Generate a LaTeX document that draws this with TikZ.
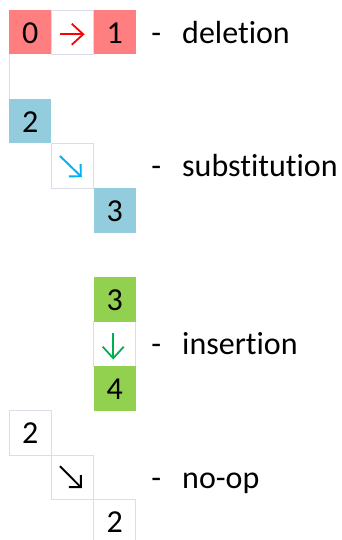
\documentclass[tikz,border=0pt]{standalone}
\usepackage{fontspec}
\setmainfont{Carlito}[Ligatures=NoCommon]
\usetikzlibrary{arrows.meta,calc}

\definecolor{delfill}{RGB}{255,126,128}
\definecolor{subfill}{RGB}{147,205,221}
\definecolor{insfill}{RGB}{146,208,80}
\definecolor{gridline}{RGB}{219,221,236}
\definecolor{delarrow}{RGB}{255,0,0}
\definecolor{subarrow}{RGB}{0,176,240}
\definecolor{insarrow}{RGB}{0,176,80}

\begin{document}
\begin{tikzpicture}[x=1pt,y=-1pt,
  every node/.style={font=\fontsize{32}{38}\selectfont},
  cell/.style={rectangle, inner sep=0pt, minimum width=42.25pt, minimum height=44.5pt,
    text height=22pt, text depth=0pt},
  gridcell/.style={cell, draw=gridline, line width=0.8pt},
  delcell/.style={cell, fill=delfill},
  subcell/.style={cell, fill=subfill},
  inscell/.style={cell, fill=insfill},
  opword/.style={inner sep=0pt, text height=22pt, text depth=0pt, anchor=west},
  opdash/.style={inner sep=0pt, text height=22pt, text depth=0pt},
  straightarr/.style={line width=1.8pt, -{Straight Barb[length=11.5pt,width=21pt,line width=1.8pt]}},
  diagarr/.style={line width=1.9pt, -{Straight Barb[length=8.5pt,width=17pt,line width=1.9pt]}}
]
\useasboundingbox (0,0) rectangle (341,540);

% deletion: 0 -> 1
\node[gridcell] (delarr) at (72.375,32.25) {};
\node[delcell] (del0) at (30.125,32.25) {0};
\node[delcell] (del1) at (114.625,32.25) {1};
\draw[straightarr, delarrow] ($(delarr.center)+(-12.4,2)$) -- ($(delarr.center)+(12.2,2)$);
\node[opdash] (deldash) at (156.3,32.25) {-};
\node[opword] (delword) at (182,32.25) {deletion};

% left rule of the empty cell below 0
\coordinate (gapTop) at (9,54.5);
\coordinate (gapBot) at (9,99);
\draw[gridline, line width=0.8pt] (gapTop) -- (gapBot);

% substitution: 2 -> 3 (diagonal)
\node[gridcell] (subarr) at (72.375,165.75) {};
\node[subcell] (sub2) at (30.125,121.25) {2};
\node[subcell] (sub3) at (114.625,210.25) {3};
\draw[diagarr, subarrow] ($(subarr.center)+(-12.4,-9.75)$) -- ($(subarr.center)+(9.4,11.4)$);
\node[opdash] (subdash) at (156.3,165.75) {-};
\node[opword] (subword) at (182,165.75) {substitution};

% insertion: 3 above 4
\node[gridcell] (insarr) at (114.625,343.75) {};
\node[inscell] (ins3) at (114.625,299.25) {3};
\node[inscell] (ins4) at (114.625,388.25) {4};
\draw[straightarr, insarrow] ($(insarr.center)+(-1.4,-10.5)$) -- ($(insarr.center)+(-1.4,15.8)$);
\node[opdash] (insdash) at (156.3,343.75) {-};
\node[opword] (insword) at (182,343.75) {insertion};

% no-op: 2 -> 2 (diagonal)
\node[gridcell] (nop2) at (30.125,432.75) {2};
\node[gridcell] (noparr) at (72.375,477.25) {};
\node[gridcell] (nop2b) at (114.625,521.75) {2};
\draw[diagarr, black] ($(noparr.center)+(-12.4,-11)$) -- ($(noparr.center)+(9.4,10.9)$);
\node[opdash] (nopdash) at (156.3,477.25) {-};
\node[opword] (nopword) at (182,477.25) {no-op};
\end{tikzpicture}
\end{document}
